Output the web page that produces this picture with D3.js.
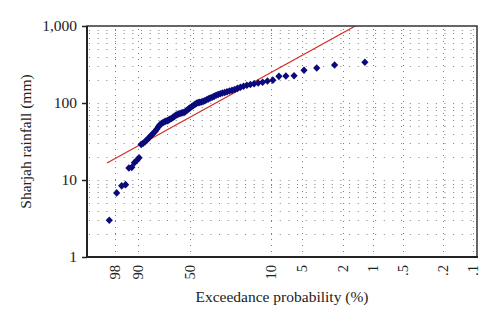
<!DOCTYPE html>
<html>
<head>
<meta charset="utf-8">
<script src="https://cdn.jsdelivr.net/npm/d3@7"></script>
<style>
  html, body { margin: 0; padding: 0; background: #fff; }
  svg text { font-family: "Liberation Serif", "Times New Roman", serif; fill: #222; }
</style>
</head>
<body>
<svg id="chart" width="500" height="325"></svg>
<script>
// Annual rainfall at Sharjah, ranked largest first (mm)
const rainfall = [338, 312, 285, 266, 226, 224, 222, 198, 193, 186,
                  182, 178, 174, 170, 165, 160, 155, 150, 146, 143,
                  140, 137, 135, 132, 129, 126, 122, 119, 116, 113,
                  110, 107, 105, 103, 102, 101, 99, 96, 93, 90,
                  87, 84, 81, 78, 76, 75, 74, 73, 72, 71,
                  69, 67, 65, 63, 62, 60, 59, 58, 57, 55.5,
                  54, 52, 49, 46, 43, 41, 39, 37, 35, 33,
                  31.5, 30, 29, 19.4, 18, 16.8, 14.6, 14.3, 8.7, 8.4,
                  6.8, 3.0];

// Fitted distribution line: exceedance probability (%) and rainfall (mm)
const fitProb = [99.05, 1.5];
const fitMm = [16.6, 1000];

// Axis ticks
const xTickProbs = [98, 90, 50, 10, 5, 2, 1, 0.5, 0.2, 0.1];
const xTickLabels = ["98", "90", "50", "10", "5", "2", "1", ".5", ".2", ".1"];
const yTicks = [1, 10, 100, 1000];
const yTickLabels = ["1", "10", "100", "1,000"];

const svg = d3.select("#chart");
const plotL = 87, plotR = 477, plotT = 26, plotB = 257;

// Gumbel reduced variate of an exceedance probability given in percent
const gumbel = p => -Math.log(-Math.log(1 - p / 100));

const xVar = d3.scaleLinear().domain([-2, 7]).range([plotL, plotR]);
const x = p => xVar(gumbel(p));
const y = d3.scaleLog().domain([1, 1000]).range([plotB, plotT]);

// Weibull plotting position for each ranked value
const n = rainfall.length;
const points = rainfall.map((v, i) => ({ p: 100 * (i + 1) / (n + 1), v }));

// Gridlines
const grid = svg.append("g").attr("stroke", "#555").attr("stroke-width", 1).attr("opacity", 0.75);
const minor = [];
for (let e = 0; e < 3; e++) for (let k = 1; k <= 9; k++) minor.push(k * Math.pow(10, e));
grid.selectAll("line.h").data(minor.filter(v => v > 1)).join("line")
  .attr("x1", plotL + 2).attr("x2", plotR)
  .attr("y1", d => Math.round(y(d)) + 0.5).attr("y2", d => Math.round(y(d)) + 0.5)
  .attr("stroke-dasharray", "1,7.67");
grid.selectAll("line.v").data(xTickProbs).join("line")
  .attr("x1", d => Math.round(x(d)) + 0.5).attr("x2", d => Math.round(x(d)) + 0.5)
  .attr("y1", plotT + 3).attr("y2", plotB)
  .attr("stroke-dasharray", "1,5");

// Clip region for the plot
svg.append("clipPath").attr("id", "plotClip")
  .append("rect").attr("x", plotL).attr("y", plotT).attr("width", plotR - plotL).attr("height", plotB - plotT);

// Fitted line
const fit = fitProb.map((p, i) => [x(p), y(fitMm[i])]);
svg.append("path")
  .attr("clip-path", "url(#plotClip)")
  .attr("d", d3.line()(fit))
  .attr("fill", "none").attr("stroke", "#d42a23").attr("stroke-width", 1.2);

// Observed values
const diamond = "M0,-3.8L3.6,0L0,3.8L-3.6,0Z";
svg.append("g").selectAll("path").data(points).join("path")
  .attr("transform", d => `translate(${x(d.p)},${y(d.v)})`)
  .attr("d", diamond)
  .attr("fill", "#0a0a7a");

// Frame
svg.append("rect").attr("x", plotL).attr("y", plotT).attr("width", plotR - plotL).attr("height", plotB - plotT)
  .attr("fill", "none").attr("stroke", "#333").attr("stroke-width", 1.5);
svg.append("line").attr("x1", plotL).attr("x2", plotL).attr("y1", plotT).attr("y2", plotB + 1)
  .attr("stroke", "#222").attr("stroke-width", 2);
svg.append("line").attr("x1", plotL - 1).attr("x2", plotR + 1).attr("y1", plotB).attr("y2", plotB)
  .attr("stroke", "#222").attr("stroke-width", 2);

// Y axis
const yAxis = svg.append("g").attr("transform", `translate(${plotL},0)`)
  .call(d3.axisLeft(y).tickValues(yTicks).tickFormat((d, i) => yTickLabels[i]).tickSize(5).tickPadding(5));
yAxis.select(".domain").remove();
yAxis.selectAll("line").attr("stroke", "#222").attr("stroke-width", 1.5);
yAxis.selectAll("text").attr("font-size", 15.5).attr("fill", "#222")
  .style("font-family", '"Liberation Serif", serif');

// X axis labels, rotated
svg.append("g").selectAll("text").data(xTickProbs).join("text")
  .attr("transform", d => `translate(${x(d)},265) rotate(-90)`)
  .attr("text-anchor", "end").attr("dy", "0.35em")
  .attr("font-size", 14.5)
  .text((d, i) => xTickLabels[i]);

// Axis titles
svg.append("text").attr("x", (plotL + plotR) / 2).attr("y", 302)
  .attr("text-anchor", "middle").attr("font-size", 15.5)
  .text("Exceedance probability (%)");
svg.append("text").attr("transform", `translate(31,${(plotT + plotB) / 2}) rotate(-90)`)
  .attr("text-anchor", "middle").attr("font-size", 15.5)
  .text("Sharjah rainfall (mm)");
</script>
</body>
</html>
